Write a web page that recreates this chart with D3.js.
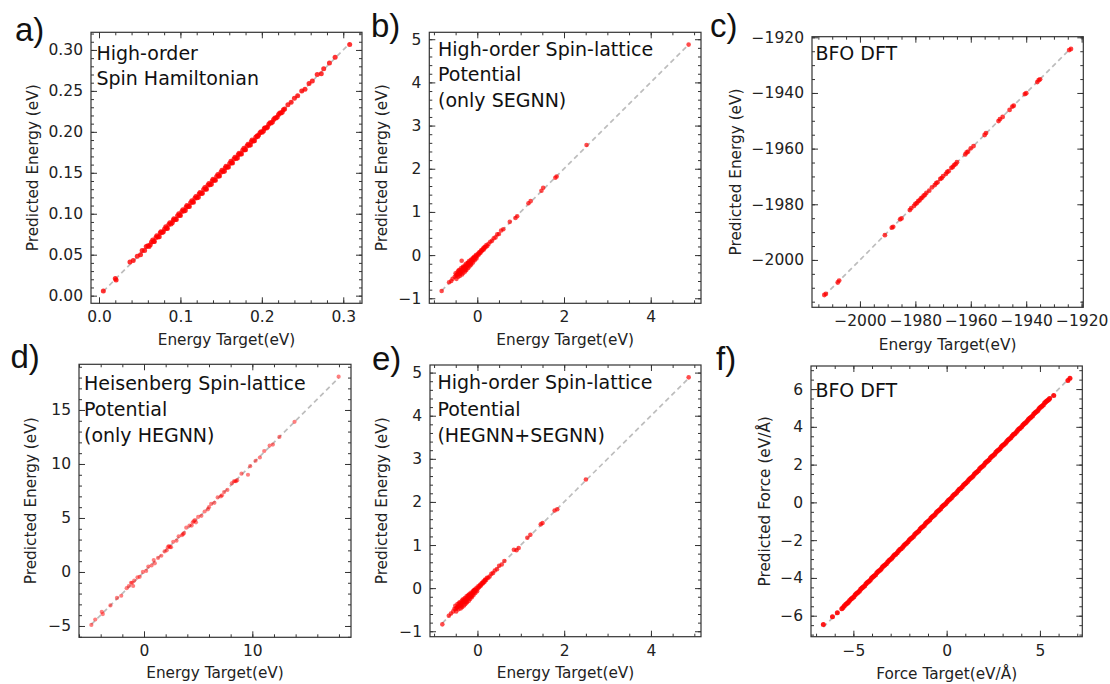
<!DOCTYPE html>
<html>
<head>
<meta charset="utf-8">
<script src="https://cdn.jsdelivr.net/npm/d3@7"></script>
<style>
  body { margin: 0; background: #fff; overflow: hidden; }
  svg { display: block; }
  .tick text { font-family: "DejaVu Sans", sans-serif; font-size: 15.5px; fill: #222; }
  .tick line { stroke: #333; stroke-width: 1; }
  .frame { fill: none; stroke: #333; stroke-width: 1.2; }
  .label { font-family: "DejaVu Sans", sans-serif; font-size: 15.3px; fill: #222; }
  .note { font-family: "DejaVu Sans", sans-serif; font-size: 19px; fill: #111; }
  .letter { font-family: "Liberation Sans", Arial, sans-serif; font-size: 33px; fill: #111; }
  .diag { fill: none; stroke: #bdbdbd; stroke-width: 1.7; stroke-dasharray: 5 3.5; }
</style>
</head>
<body>
<div id="figure"></div>
<script>
"use strict"

// a) high-order spin Hamiltonian
const aTarget = [0.0053, 0.020, 0.021, 0.038, 0.042, 0.047, 0.051, 0.053, 0.056, 0.058,
  0.060, 0.063, 0.066, 0.068, 0.071, 0.074, 0.076, 0.079, 0.082, 0.084, 0.087, 0.090, 0.092, 0.095,
  0.098, 0.100, 0.103, 0.106, 0.108, 0.111, 0.114, 0.116, 0.119, 0.122, 0.124, 0.127, 0.130, 0.132,
  0.135, 0.138, 0.140, 0.143, 0.146, 0.148, 0.151, 0.154, 0.156, 0.159, 0.162, 0.164, 0.167, 0.170,
  0.172, 0.175, 0.178, 0.180, 0.183, 0.186, 0.188, 0.191, 0.194, 0.196, 0.199, 0.202, 0.204, 0.207,
  0.210, 0.213, 0.216, 0.219, 0.222, 0.225, 0.228,
  0.0615, 0.0645, 0.0672, 0.0700, 0.0725, 0.0752, 0.0778, 0.0805, 0.0830, 0.0858, 0.0885, 0.0912,
  0.0938, 0.0965, 0.0990, 0.1018, 0.1045, 0.1070, 0.1098, 0.1125, 0.1150, 0.1178, 0.1205, 0.1230,
  0.1258, 0.1285, 0.1310, 0.1338, 0.1365, 0.1390, 0.1418, 0.1445, 0.1470, 0.1498, 0.1525, 0.1550,
  0.1578, 0.1605, 0.1630, 0.1658, 0.1685, 0.1710, 0.1738, 0.1765, 0.1790, 0.1818, 0.1845, 0.1870,
  0.1898, 0.1925, 0.1950, 0.1978, 0.2005, 0.2030, 0.2058, 0.2085, 0.2115, 0.2145, 0.2175, 0.2205,
  0.2235, 0.2265,
  0.232, 0.236, 0.240, 0.244, 0.249, 0.253, 0.258, 0.262, 0.268, 0.273, 0.276, 0.283, 0.290, 0.3079];
const aPred = [0.0057, 0.021, 0.019, 0.041, 0.043, 0.048, 0.050, 0.055, 0.055, 0.060,
  0.061, 0.062, 0.068, 0.066, 0.073, 0.072, 0.078, 0.078, 0.084, 0.082, 0.089, 0.089, 0.094, 0.093,
  0.100, 0.098, 0.105, 0.104, 0.110, 0.109, 0.116, 0.114, 0.121, 0.120, 0.126, 0.125, 0.132, 0.130,
  0.137, 0.136, 0.142, 0.141, 0.148, 0.146, 0.153, 0.152, 0.158, 0.157, 0.164, 0.162, 0.169, 0.168,
  0.174, 0.173, 0.180, 0.178, 0.185, 0.184, 0.190, 0.189, 0.195, 0.196, 0.200, 0.201, 0.205, 0.206,
  0.211, 0.212, 0.217, 0.218, 0.223, 0.224, 0.228,
  0.0600, 0.0655, 0.0660, 0.0710, 0.0715, 0.0765, 0.0770, 0.0815, 0.0822, 0.0868, 0.0875, 0.0922,
  0.0930, 0.0975, 0.0982, 0.1028, 0.1035, 0.1080, 0.1088, 0.1135, 0.1142, 0.1188, 0.1195, 0.1240,
  0.1248, 0.1295, 0.1302, 0.1348, 0.1355, 0.1400, 0.1408, 0.1455, 0.1462, 0.1508, 0.1515, 0.1560,
  0.1568, 0.1615, 0.1622, 0.1668, 0.1675, 0.1720, 0.1728, 0.1775, 0.1782, 0.1828, 0.1835, 0.1880,
  0.1888, 0.1935, 0.1942, 0.1988, 0.1995, 0.2040, 0.2048, 0.2092, 0.2108, 0.2152, 0.2168, 0.2212,
  0.2230, 0.2270,
  0.233, 0.236, 0.241, 0.244, 0.250, 0.252, 0.259, 0.262, 0.270, 0.271, 0.277, 0.284, 0.291, 0.3065];
const aXTicks = [0, 0.1, 0.2, 0.3];
const aYTicks = [0, 0.05, 0.10, 0.15, 0.20, 0.25, 0.30];
const aNote = ["High-order", "Spin Hamiltonian"];

// b) high-order spin-lattice potential, only SEGNN
const bTarget = [-0.822, -0.65, -0.60, -0.57,
  -0.52, -0.50, -0.48, -0.47, -0.45, -0.44, -0.42, -0.41, -0.40, -0.38, -0.37, -0.36, -0.35, -0.34,
  -0.33, -0.32, -0.30, -0.29, -0.28, -0.27, -0.26, -0.25, -0.24, -0.22, -0.21, -0.20, -0.19, -0.18,
  -0.16, -0.15, -0.14, -0.12, -0.11, -0.10, -0.08, -0.07, -0.06, -0.04, -0.03, -0.02, 0.00, 0.01,
  -0.49, -0.46, -0.43, -0.40, -0.37, -0.34, -0.31, -0.28, -0.25, -0.22, -0.19, -0.16, -0.13, -0.10,
  -0.07, -0.04, -0.43, -0.39, -0.33, -0.27, -0.21, -0.15, -0.09, 0.04, 0.08, 0.12, 0.16,
  0.03, 0.05, 0.07, 0.09, 0.11, 0.13, 0.15, 0.17, 0.19, 0.21, 0.23, 0.26, 0.30, 0.34, 0.38, 0.42,
  0.46, 0.50, 0.55, 0.60, 0.75, 0.88, 0.92, 1.18, 1.23, 1.48, 1.52, 1.80, 1.83, 2.52, 4.875];
const bPred = [-0.831, -0.63, -0.60, -0.55,
  -0.50, -0.42, -0.55, -0.46, -0.38, -0.50, -0.44, -0.34, -0.48, -0.40, -0.30, -0.13, -0.45, -0.36,
  -0.27, -0.41, -0.33, -0.24, -0.38, -0.30, -0.20, -0.34, -0.27, -0.18, -0.30, -0.23, -0.14, -0.26,
  -0.19, -0.11, -0.22, -0.15, -0.08, -0.17, -0.10, -0.04, -0.12, -0.06, 0.00, -0.08, -0.02, 0.03,
  -0.47, -0.44, -0.41, -0.39, -0.35, -0.32, -0.29, -0.27, -0.24, -0.21, -0.18, -0.16, -0.12, -0.10,
  -0.06, -0.03, -0.36, -0.43, -0.30, -0.34, -0.18, -0.20, -0.06, 0.04, 0.08, 0.12, 0.17,
  0.01, 0.07, 0.05, 0.11, 0.10, 0.15, 0.13, 0.19, 0.18, 0.23, 0.21, 0.26, 0.31, 0.33, 0.39, 0.41,
  0.48, 0.49, 0.57, 0.60, 0.77, 0.86, 0.90, 1.20, 1.25, 1.49, 1.56, 1.79, 1.82, 2.55, 4.875];
const bXTicks = [0, 2, 4];
const bYTicks = [-1, 0, 1, 2, 3, 4, 5];
const bNote = ["High-order Spin-lattice", "Potential", "(only SEGNN)"];

// c) BFO DFT energies
const cTarget = [-2012.85, -2012.3, -2008, -2007.5, -1991, -1988.5, -1988, -1985.5, -1985,
  -1982, -1981.5, -1980.5, -1980, -1979.5, -1979, -1978.5, -1978, -1977.5, -1977, -1976.5, -1976,
  -1975, -1974, -1973, -1972.5, -1972, -1971, -1970.5, -1970, -1969, -1968.5, -1968, -1967,
  -1966.5, -1966, -1965.5, -1965, -1962, -1961.5, -1961, -1960, -1959, -1955, -1954.5, -1950,
  -1949.5, -1948.5, -1946, -1945, -1944.5, -1940.5, -1940, -1936, -1935.5, -1935, -1924.5, -1923.85];
const cPred = [-2012.6, -2012.2, -2008.1, -2007.4, -1991.1, -1988.4, -1988.1, -1985.4, -1985.1,
  -1982.1, -1981.4, -1980.6, -1979.9, -1979.6, -1978.9, -1978.6, -1977.9, -1977.6, -1976.9, -1976.6, -1975.9,
  -1975.1, -1973.9, -1973.1, -1972.4, -1972.1, -1970.9, -1970.6, -1969.9, -1969.1, -1968.4, -1968.1, -1966.9,
  -1966.6, -1965.9, -1965.6, -1964.9, -1962.1, -1961.4, -1961.1, -1959.9, -1959.1, -1955.1, -1954.4, -1950.1,
  -1949.4, -1948.6, -1946.1, -1944.9, -1944.6, -1940.4, -1940.1, -1936.1, -1935.4, -1935.1, -1924.6, -1924.2];
const cXTicks = [-2000, -1980, -1960, -1940, -1920];
const cYTicks = [-2000, -1980, -1960, -1940, -1920];
const cNote = ["BFO DFT"];

// d) Heisenberg spin-lattice potential, only HEGNN
const dTarget = [-4.86, -4.5, -3.9, -3.8, -3.1, -2.5, -2.1, -1.6, -1.4, -1.2, -1.0, -0.9, -0.6, -0.4,
  -0.1, 0.2, 0.4, 0.7, 0.9, 1.0, 1.3, 1.6, 1.9, 2.1, 2.3, 2.5, 2.7, 3.0, 3.2, 3.5, 3.7, 3.9, 4.2, 4.4,
  4.6, 4.8, 5.0, 5.3, 5.6, 5.9, 6.2, 6.5, 6.8, 7.1, 7.4, 7.7, 8.1, 8.4, 8.6, 9.0, 9.6, 9.8, 10.3,
  10.7, 11.1, 11.6, 11.9, 12.5, 13.9, 17.97,
  -1.1, 2.2, 2.4, 3.6, 4.5, 4.7, 6.0, 7.2, 8.3, 8.5];
const dPred = [-4.90, -4.4, -3.7, -3.9, -3.1, -2.4, -2.2, -1.5, -1.3, -1.0, -1.3, -0.8, -0.5, -0.45,
  0.0, 0.1, 0.5, 0.6, 1.1, 0.8, 1.3, 1.5, 1.9, 2.0, 2.4, 2.3, 2.8, 2.9, 3.3, 3.4, 3.6, 4.1, 4.3, 4.3,
  4.7, 4.6, 5.1, 5.2, 5.6, 5.8, 6.3, 6.4, 6.9, 7.0, 7.4, 7.6, 8.2, 8.4, 8.5, 9.1, 9.0, 9.8, 10.3,
  10.6, 11.2, 11.7, 11.8, 12.5, 13.9, 18.08,
  -1.0, 2.3, 2.3, 3.5, 4.6, 4.8, 6.0, 7.1, 8.4, 8.4];
const dXTicks = [0, 10];
const dYTicks = [-5, 0, 5, 10, 15];
const dNote = ["Heisenberg Spin-lattice", "Potential", "(only HEGNN)"];

// e) high-order spin-lattice potential, HEGNN+SEGNN
const eTarget = [-0.81, -0.66, -0.61, -0.56,
  -0.53, -0.51, -0.49, -0.47, -0.46, -0.44, -0.43, -0.41, -0.39, -0.38, -0.36, -0.35, -0.34, -0.33,
  -0.31, -0.30, -0.29, -0.28, -0.27, -0.25, -0.24, -0.23, -0.22, -0.20, -0.19, -0.18, -0.17, -0.15,
  -0.14, -0.13, -0.11, -0.10, -0.09, -0.07, -0.06, -0.05, -0.03, -0.02, -0.01, 0.01, 0.02, 0.04,
  -0.50, -0.47, -0.44, -0.41, -0.38, -0.35, -0.32, -0.29, -0.26, -0.23, -0.20, -0.17, -0.14, -0.11,
  -0.08, -0.05, -0.42, -0.37, -0.31, -0.26, -0.20, -0.14, -0.08, 0.05, 0.09, 0.13, 0.17,
  0.06, 0.08, 0.10, 0.12, 0.14, 0.16, 0.18, 0.20, 0.22, 0.25, 0.28, 0.32, 0.36, 0.40, 0.45, 0.50,
  0.56, 0.62, 0.84, 0.90, 0.95, 1.15, 1.22, 1.46, 1.50, 1.78, 1.84, 2.50, 4.87];
const ePred = [-0.84, -0.64, -0.59, -0.54,
  -0.48, -0.41, -0.54, -0.45, -0.37, -0.49, -0.42, -0.33, -0.47, -0.39, -0.29, -0.44, -0.35, -0.26,
  -0.40, -0.32, -0.23, -0.37, -0.29, -0.19, -0.33, -0.26, -0.17, -0.29, -0.22, -0.13, -0.25, -0.18,
  -0.10, -0.21, -0.14, -0.07, -0.16, -0.09, -0.03, -0.11, -0.05, 0.01, -0.07, -0.01, 0.04, 0.02,
  -0.48, -0.45, -0.42, -0.40, -0.36, -0.33, -0.30, -0.28, -0.25, -0.22, -0.19, -0.17, -0.13, -0.11,
  -0.07, -0.04, -0.35, -0.42, -0.28, -0.33, -0.16, -0.19, -0.05, 0.05, 0.09, 0.13, 0.18,
  0.08, 0.06, 0.12, 0.11, 0.16, 0.14, 0.20, 0.19, 0.24, 0.24, 0.27, 0.33, 0.35, 0.41, 0.44, 0.52,
  0.55, 0.63, 0.89, 0.88, 0.93, 1.17, 1.24, 1.48, 1.51, 1.80, 1.83, 2.52, 4.89];
const eXTicks = [0, 2, 4];
const eYTicks = [-1, 0, 1, 2, 3, 4, 5];
const eNote = ["High-order Spin-lattice", "Potential", "(HEGNN+SEGNN)"];

// f) BFO DFT forces, a dense band of points along the diagonal
const fTarget = [-6.61, -6.12, -5.86, -5.62, -5.48, -5.33, -5.20, -5.05, -4.90, -4.76, -4.61, -4.47,
  -4.32, -4.18, -4.03, -3.89, -3.74, -3.60, -3.45, -3.31, -3.16, -3.02, -2.87, -2.73, -2.58, -2.44,
  -2.29, -2.15, -2.00, -1.86, -1.71, -1.57, -1.42, -1.28, -1.13, -0.99, -0.84, -0.70, -0.55, -0.41,
  -0.26, -0.12, 0.03, 0.17, 0.32, 0.46, 0.61, 0.75, 0.90, 1.04, 1.19, 1.33, 1.48, 1.62, 1.77, 1.91,
  2.06, 2.20, 2.35, 2.49, 2.64, 2.78, 2.93, 3.07, 3.22, 3.36, 3.51, 3.65, 3.80, 3.94, 4.09, 4.23,
  4.38, 4.52, 4.67, 4.81, 4.96, 5.10, 5.25, 5.39, 5.52, 5.74, 6.61,
  -5.55, -5.40, -5.27, -5.12, -4.97, -4.83, -4.68, -4.54, -4.39, -4.25, -4.10, -3.96, -3.81, -3.67,
  -3.52, -3.38, -3.23, -3.09, -2.94, -2.80, -2.65, -2.51, -2.36, -2.22, -2.07, -1.93, -1.78, -1.64,
  -1.49, -1.35, -1.20, -1.06, -0.91, -0.77, -0.62, -0.48, -0.33, -0.19, -0.04, 0.10, 0.25, 0.39,
  0.54, 0.68, 0.83, 0.97, 1.12, 1.26, 1.41, 1.55, 1.70, 1.84, 1.99, 2.13, 2.28, 2.42, 2.57, 2.71,
  2.86, 3.00, 3.15, 3.29, 3.44, 3.58, 3.73, 3.87, 4.02, 4.16, 4.31, 4.45, 4.60, 4.74, 4.89, 5.03,
  5.18, 5.32, 5.46, 6.50];
const fPred = [-6.46, -6.05, -5.84, -5.63, -5.47, -5.34, -5.19, -5.06, -4.89, -4.77, -4.60, -4.48,
  -4.31, -4.19, -4.02, -3.90, -3.73, -3.61, -3.44, -3.32, -3.15, -3.03, -2.86, -2.74, -2.57, -2.45,
  -2.28, -2.16, -1.99, -1.87, -1.70, -1.58, -1.41, -1.29, -1.12, -1.00, -0.83, -0.71, -0.54, -0.42,
  -0.25, -0.13, 0.04, 0.16, 0.33, 0.45, 0.62, 0.74, 0.91, 1.03, 1.20, 1.32, 1.49, 1.61, 1.78, 1.90,
  2.07, 2.19, 2.36, 2.48, 2.65, 2.77, 2.94, 3.06, 3.23, 3.35, 3.52, 3.64, 3.81, 3.93, 4.10, 4.22,
  4.39, 4.51, 4.68, 4.80, 4.97, 5.09, 5.26, 5.38, 5.50, 5.66, 6.57,
  -5.57, -5.39, -5.29, -5.11, -4.99, -4.82, -4.70, -4.53, -4.41, -4.24, -4.12, -3.95, -3.83, -3.66,
  -3.54, -3.37, -3.25, -3.08, -2.96, -2.79, -2.67, -2.50, -2.38, -2.21, -2.09, -1.92, -1.80, -1.63,
  -1.51, -1.34, -1.22, -1.05, -0.93, -0.76, -0.64, -0.47, -0.35, -0.18, -0.06, 0.11, 0.23, 0.40,
  0.52, 0.69, 0.81, 0.98, 1.10, 1.27, 1.39, 1.56, 1.68, 1.85, 1.97, 2.14, 2.26, 2.43, 2.55, 2.72,
  2.84, 3.01, 3.13, 3.30, 3.42, 3.59, 3.71, 3.88, 4.00, 4.17, 4.29, 4.46, 4.58, 4.75, 4.87, 5.04,
  5.16, 5.33, 5.44, 6.45];
const fXTicks = [-5, 0, 5];
const fYTicks = [-6, -4, -2, 0, 2, 4, 6];
const fNote = ["BFO DFT"];

const energyX = "Energy Target(eV)";
const energyY = "Predicted Energy (eV)";

// Panel settings: data, ticks and where each panel sits in the figure
const panels = [
  {letter: "a)", target: aTarget, pred: aPred, xTicks: aXTicks, yTicks: aYTicks, xMinor: 0.02, yMinor: 0.01,
    xFmt: ".1f", yFmt: ".2f", note: aNote, xLabel: energyX, yLabel: energyY, r: 2.5, alpha: 0.8,
    box: [91, 32.3, 362, 303.3], letterPos: [15, 41], notePos: [96.4, 60, 25], yLabelX: 38.3, xLabelY: 345},
  {letter: "b)", target: bTarget, pred: bPred, xTicks: bXTicks, yTicks: bYTicks, xMinor: 0.5, yMinor: 0.2,
    xFmt: "d", yFmt: "d", note: bNote, xLabel: energyX, yLabel: energyY, r: 2.3, alpha: 0.7,
    box: [429.3, 32.3, 701, 303.3], letterPos: [371, 37], notePos: [438, 55.5, 25.7], yLabelX: 387.3, xLabelY: 345},
  {letter: "c)", target: cTarget, pred: cPred, xTicks: cXTicks, yTicks: cYTicks, xMinor: 5, yMinor: 5,
    xFmt: "d", yFmt: "d", note: cNote, xLabel: energyX, yLabel: energyY, r: 2.4, alpha: 0.75,
    box: [812, 36.7, 1083.3, 307.3], letterPos: [710, 37], notePos: [815.4, 60, 25], yLabelX: 741, xLabelY: 350},
  {letter: "d)", target: dTarget, pred: dPred, xTicks: dXTicks, yTicks: dYTicks, xMinor: 2, yMinor: 1,
    xFmt: "d", yFmt: "d", note: dNote, xLabel: energyX, yLabel: energyY, r: 2.1, alpha: 0.5,
    box: [79, 364.3, 351, 637.3], letterPos: [10.5, 368], notePos: [84, 390, 25.8], yLabelX: 36, xLabelY: 678},
  {letter: "e)", target: eTarget, pred: ePred, xTicks: eXTicks, yTicks: eYTicks, xMinor: 0.5, yMinor: 0.2,
    xFmt: "d", yFmt: "d", note: eNote, xLabel: energyX, yLabel: energyY, r: 2.3, alpha: 0.7,
    box: [430, 365, 701, 636.7], letterPos: [372, 370], notePos: [437.4, 389.3, 26.2], yLabelX: 387.3, xLabelY: 678},
  {letter: "f)", target: fTarget, pred: fPred, xTicks: fXTicks, yTicks: fYTicks, xMinor: 1, yMinor: 0.5,
    xFmt: "d", yFmt: "d", note: fNote, xLabel: "Force Target(eV/Å)", yLabel: "Predicted Force (eV/Å)", r: 2.5, alpha: 0.9,
    box: [811, 366, 1082.3, 636.7], letterPos: [716, 370], notePos: [815.4, 396.7, 25], yLabelX: 770, xLabelY: 679}
];

const svg = d3.select("#figure").append("svg")
  .attr("width", 1110)
  .attr("height", 684);

svg.append("rect")
  .attr("width", 1110)
  .attr("height", 684)
  .attr("fill", "#fff");

// slight blur so the scatter looks like the soft, downsampled original
svg.append("defs").append("filter")
  .attr("id", "soft")
  .append("feGaussianBlur")
    .attr("stdDeviation", 0.7);

panels.forEach(drawPanel);

function drawPanel(p) {
  const [left, top, right, bottom] = p.box;
  const width = right - left;
  const height = bottom - top;

  // matplotlib style autoscale: data extent plus 5% on each side
  const x = d3.scaleLinear().domain(padded(d3.extent(p.target))).range([0, width]);
  const y = d3.scaleLinear().domain(padded(d3.extent(p.pred))).range([height, 0]);

  const g = svg.append("g")
    .attr("transform", translate(left, top));

  // y = x reference line
  const tMin = d3.min(p.target);
  const tMax = d3.max(p.target);
  g.append("path")
    .attr("class", "diag")
    .attr("d", d3.line().x(d => x(d)).y(d => y(d))([tMin, tMax]));

  g.append("g")
    .attr("filter", "url(#soft)")
    .selectAll("circle")
    .data(p.target)
    .enter().append("circle")
      .attr("cx", d => x(d))
      .attr("cy", (d, i) => y(p.pred[i]))
      .attr("r", p.r)
      .attr("fill", "red")
      .attr("fill-opacity", p.alpha);

  // ticks point inward on all four sides, minor ones are shorter
  const xMinorTicks = minorTicks(x.domain(), p.xMinor);
  const yMinorTicks = minorTicks(y.domain(), p.yMinor);

  const axes = [
    [d3.axisBottom(x).tickValues(p.xTicks).tickFormat(d3.format(p.xFmt)), translate(0, height)],
    [d3.axisTop(x).tickValues(p.xTicks).tickFormat(""), translate(0, 0)],
    [d3.axisLeft(y).tickValues(p.yTicks).tickFormat(d3.format(p.yFmt)), translate(0, 0)],
    [d3.axisRight(y).tickValues(p.yTicks).tickFormat(""), translate(width, 0)],
    [d3.axisBottom(x).tickValues(xMinorTicks).tickFormat("").tickSize(-3), translate(0, height)],
    [d3.axisTop(x).tickValues(xMinorTicks).tickFormat("").tickSize(-3), translate(0, 0)],
    [d3.axisLeft(y).tickValues(yMinorTicks).tickFormat("").tickSize(-3), translate(0, 0)],
    [d3.axisRight(y).tickValues(yMinorTicks).tickFormat("").tickSize(-3), translate(width, 0)]
  ];

  axes.forEach(([axis, t], i) => {
    if (i < 4) axis.tickSize(-6);
    const a = g.append("g")
      .attr("transform", t)
      .call(axis.tickPadding(8));
    a.attr("font-size", null).attr("font-family", null);
    a.select(".domain").remove();
  });

  g.append("rect")
    .attr("class", "frame")
    .attr("width", width)
    .attr("height", height);

  // Axis titles
  svg.append("text")
    .attr("class", "label")
    .attr("x", left + width / 2)
    .attr("y", p.xLabelY)
    .style("text-anchor", "middle")
    .text(p.xLabel);

  svg.append("text")
    .attr("class", "label")
    .attr("transform", `${translate(p.yLabelX, top + height / 2)}rotate(-90)`)
    .style("text-anchor", "middle")
    .text(p.yLabel);

  // Description in the upper left corner
  p.note.forEach((line, i) => {
    svg.append("text")
      .attr("class", "note")
      .attr("x", p.notePos[0])
      .attr("y", p.notePos[1] + i * p.notePos[2])
      .text(line);
  });

  svg.append("text")
    .attr("class", "letter")
    .attr("x", p.letterPos[0])
    .attr("y", p.letterPos[1])
    .text(p.letter);
}

function padded([lo, hi]) {
  const m = (hi - lo) * 0.05;
  return [lo - m, hi + m];
}

function minorTicks([lo, hi], step) {
  const first = Math.ceil(lo / step - 1e-9);
  const last = Math.floor(hi / step + 1e-9);
  return d3.range(first, last + 1).map(k => +(k * step).toFixed(6));
}

function translate(x, y) {
  return `translate(${x}, ${y})`;
}
</script>
</body>
</html>
